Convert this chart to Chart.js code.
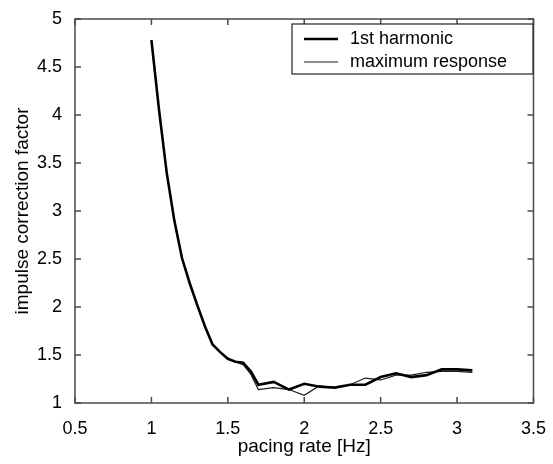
<!DOCTYPE html>
<html>
<head>
<meta charset="utf-8">
<script src="https://cdn.jsdelivr.net/npm/chart.js@4/dist/chart.umd.min.js"></script>
<style>
  html, body { margin: 0; padding: 0; background: #fff; }
</style>
</head>
<body>
<canvas id="impulseChart" width="553" height="464"></canvas>
<script>
// pacing rate [Hz]
const rates = [1.0, 1.05, 1.1, 1.15, 1.2, 1.25, 1.3, 1.35, 1.4, 1.45, 1.5, 1.55, 1.6, 1.65,
    1.7, 1.8, 1.9, 2.0, 2.1, 2.2, 2.3, 2.4, 2.5, 2.6, 2.7, 2.8, 2.9, 3.0, 3.1];
const firstHarmonic = [4.78, 4.05, 3.40, 2.90, 2.51, 2.25, 2.02, 1.80, 1.61, 1.53, 1.46, 1.43, 1.42, 1.33,
    1.19, 1.22, 1.14, 1.20, 1.17, 1.16, 1.19, 1.19, 1.27, 1.31, 1.27, 1.29, 1.35, 1.35, 1.34];
const maxResponse = [4.78, 4.05, 3.40, 2.90, 2.51, 2.25, 2.02, 1.80, 1.61, 1.53, 1.46, 1.43, 1.40, 1.30,
    1.14, 1.16, 1.14, 1.08, 1.18, 1.16, 1.19, 1.26, 1.24, 1.29, 1.29, 1.32, 1.33, 1.33, 1.32];
const xTicks = [0.5, 1, 1.5, 2, 2.5, 3, 3.5];
const yTicks = [1, 1.5, 2, 2.5, 3, 3.5, 4, 4.5, 5];

const FONT = '"Liberation Sans", Arial, Helvetica, sans-serif';
const AXIS_COLOR = '#4a4a4a';

function pts(ys) {
    return rates.map((x, i) => ({ x: x, y: ys[i] }));
}

// frame box with inward ticks on all four sides, matlab style
const frameTicks = {
    id: 'frameTicks',
    afterDatasetsDraw(chart) {
        const { ctx, chartArea: a, scales } = chart;
        const len = 6;
        ctx.save();
        ctx.strokeStyle = AXIS_COLOR;
        ctx.lineWidth = 1.5;
        ctx.strokeRect(a.left, a.top, a.right - a.left, a.bottom - a.top);
        ctx.beginPath();
        xTicks.forEach(v => {
            const px = scales.x.getPixelForValue(v);
            ctx.moveTo(px, a.bottom); ctx.lineTo(px, a.bottom - len);
            ctx.moveTo(px, a.top); ctx.lineTo(px, a.top + len);
        });
        yTicks.forEach(v => {
            const py = scales.y.getPixelForValue(v);
            ctx.moveTo(a.left, py); ctx.lineTo(a.left + len, py);
            ctx.moveTo(a.right, py); ctx.lineTo(a.right - len, py);
        });
        ctx.stroke();
        ctx.restore();
    }
};

// legend box in the upper right corner
const boxLegend = {
    id: 'boxLegend',
    afterDraw(chart) {
        const { ctx, chartArea: a } = chart;
        const x0 = a.left + 217, y0 = a.top + 5, w = 241, h = 50;
        ctx.save();
        ctx.fillStyle = '#fff';
        ctx.fillRect(x0, y0, w, h);
        ctx.strokeStyle = '#222';
        ctx.lineWidth = 1.2;
        ctx.strokeRect(x0, y0, w, h);
        ctx.font = '18px ' + FONT;
        ctx.textBaseline = 'middle';
        chart.data.datasets.forEach((ds, i) => {
            const ly = y0 + 15 + i * 23;
            ctx.beginPath();
            ctx.strokeStyle = ds.borderColor;
            ctx.lineWidth = ds.borderWidth;
            ctx.moveTo(x0 + 12, ly);
            ctx.lineTo(x0 + 46, ly);
            ctx.stroke();
            ctx.fillStyle = '#000';
            ctx.fillText(ds.label, x0 + 58, ly);
        });
        ctx.restore();
    }
};

new Chart(document.getElementById('impulseChart'), {
    type: 'scatter',
    data: {
        datasets: [{
            label: '1st harmonic',
            data: pts(firstHarmonic),
            showLine: true,
            borderColor: '#000',
            borderWidth: 2.6,
            pointRadius: 0,
            tension: 0
        }, {
            label: 'maximum response',
            data: pts(maxResponse),
            showLine: true,
            borderColor: '#1a1a1a',
            borderWidth: 1.2,
            pointRadius: 0,
            tension: 0
        }]
    },
    options: {
        responsive: false,
        devicePixelRatio: 1,
        animation: false,
        layout: { padding: { top: 19, right: 16, left: 0, bottom: 0 } },
        plugins: {
            legend: { display: false },
            tooltip: { enabled: false }
        },
        scales: {
            x: {
                type: 'linear',
                min: 0.5,
                max: 3.5,
                afterFit(scale) { scale.height = 61; },
                afterBuildTicks(scale) { scale.ticks = xTicks.map(v => ({ value: v })); },
                grid: { display: false },
                border: { display: false },
                ticks: {
                    color: '#000', padding: 7, font: { family: FONT, size: 18 },
                    callback: v => String(v)
                },
                title: {
                    display: true,
                    text: 'pacing rate [Hz]',
                    color: '#000',
                    font: { family: FONT, size: 19, lineHeight: 1 },
                    padding: { top: 0, bottom: 8 }
                }
            },
            y: {
                type: 'linear',
                min: 1,
                max: 5,
                afterFit(scale) { scale.width = 75; },
                afterBuildTicks(scale) { scale.ticks = yTicks.map(v => ({ value: v })); },
                grid: { display: false },
                border: { display: false },
                ticks: {
                    color: '#000', padding: 5, font: { family: FONT, size: 18 },
                    callback: v => String(v)
                },
                title: {
                    display: true,
                    text: 'impulse correction factor',
                    color: '#000',
                    font: { family: FONT, size: 19, lineHeight: 1 },
                    padding: { top: 13, bottom: 0 }
                }
            }
        }
    },
    plugins: [frameTicks, boxLegend]
});
</script>
</body>
</html>
